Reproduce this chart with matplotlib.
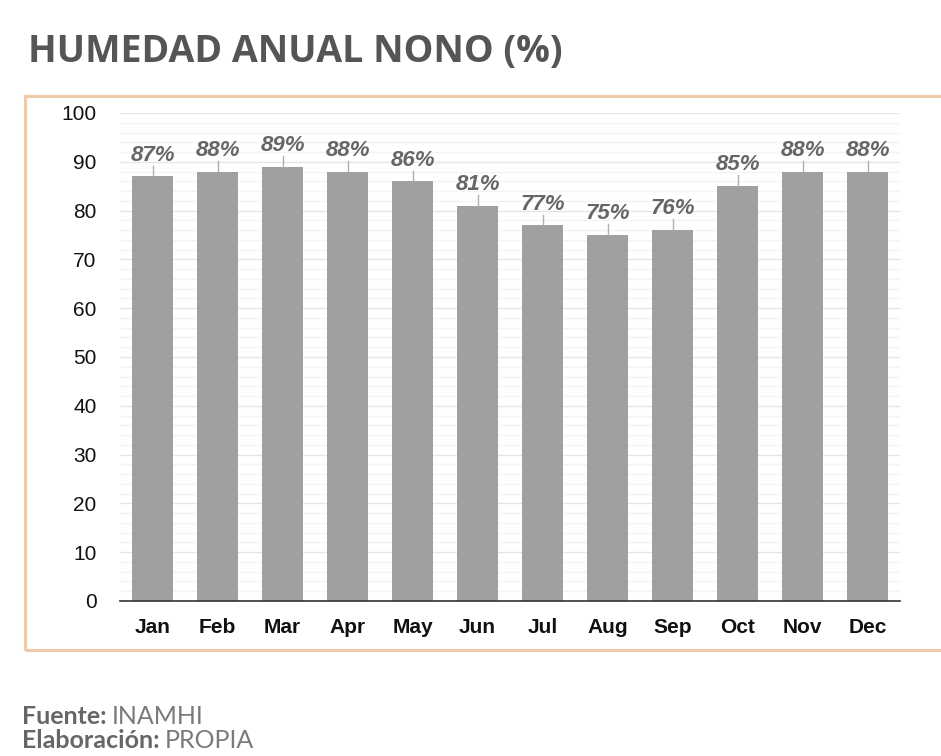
import matplotlib.pyplot as plt
from matplotlib.patches import Rectangle

# monthly relative humidity values (%)
months = ["Jan", "Feb", "Mar", "Apr", "May", "Jun", "Jul", "Aug", "Sep", "Oct", "Nov", "Dec"]
humidity = [87, 88, 89, 88, 86, 81, 77, 75, 76, 85, 88, 88]
y_ticks = [0, 10, 20, 30, 40, 50, 60, 70, 80, 90, 100]

fig = plt.figure(figsize=(9.41, 7.56), dpi=100)
fig.patch.set_facecolor("white")

# peach frame around the chart
frame = Rectangle((25 / 941, 1 - 650 / 756), 0.99, (650 - 96) / 756,
                  transform=fig.transFigure, fill=False,
                  edgecolor="#EDCAA8", linewidth=2.2, zorder=0)
fig.patches.append(frame)

ax = fig.add_axes([120 / 941, 1 - 601 / 756, 780 / 941, 488 / 756])
x = list(range(len(months)))
ax.bar(x, humidity, width=0.63, color="#A0A0A0", zorder=3)

# leader lines and value labels
for i, v in enumerate(humidity):
    ax.plot([i, i], [v, v + 2.2], color="#B0B0B0", linewidth=1, zorder=3)
    ax.text(i, v + 2.2, f"{v}%", ha="center", va="bottom",
            fontsize=16, fontstyle="italic", fontweight="bold",
            color="#666666", family="Liberation Sans", zorder=4)

ax.set_xlim(-0.5, 11.5)
ax.set_ylim(0, 100)
ax.set_yticks(y_ticks)
ax.set_yticks(range(0, 101, 2), minor=True)
ax.set_xticks(x)
ax.set_xticklabels(months, fontsize=15, fontweight="bold", family="Liberation Sans", color="#111111")
ax.set_yticklabels([str(t) for t in y_ticks], fontsize=15, family="Liberation Sans", color="#111111")
ax.tick_params(axis="both", which="both", length=0)
ax.tick_params(axis="x", pad=12)
ax.tick_params(axis="y", pad=17)

ax.grid(axis="y", which="major", color="#E6E6E6", linewidth=1, zorder=0)
ax.grid(axis="y", which="minor", color="#F4F4F4", linewidth=1, zorder=0)
for s in ["top", "right", "left"]:
    ax.spines[s].set_visible(False)
ax.spines["bottom"].set_color("#333333")
ax.spines["bottom"].set_linewidth(1.2)
ax.spines["bottom"].set_zorder(5)

fig.text(28 / 941, 1 - 52 / 756, "HUMEDAD ANUAL NONO (%)", fontsize=27,
         fontweight="bold", family="Open Sans", color="#555555", va="center")

# source notes under the frame
note_size = 18
t1 = fig.text(22 / 941, 1 - 716 / 756, "Fuente:", fontsize=note_size, fontweight="bold",
              family="Lato", color="#666666", va="center")
ax.annotate("INAMHI", xy=(1, 0), xycoords=t1, xytext=(4, 0), textcoords="offset points",
            fontsize=note_size, family="Lato", color="#7A7A7A", va="bottom",
            annotation_clip=False)
t2 = fig.text(22 / 941, 1 - 741 / 756, "Elaboración:", fontsize=note_size, fontweight="bold",
              family="Lato", color="#666666", va="center")
ax.annotate("PROPIA", xy=(1, 0), xycoords=t2, xytext=(4, 0), textcoords="offset points",
            fontsize=note_size, family="Lato", color="#7A7A7A", va="bottom",
            annotation_clip=False)

fig.savefig("out.png", dpi=100)
